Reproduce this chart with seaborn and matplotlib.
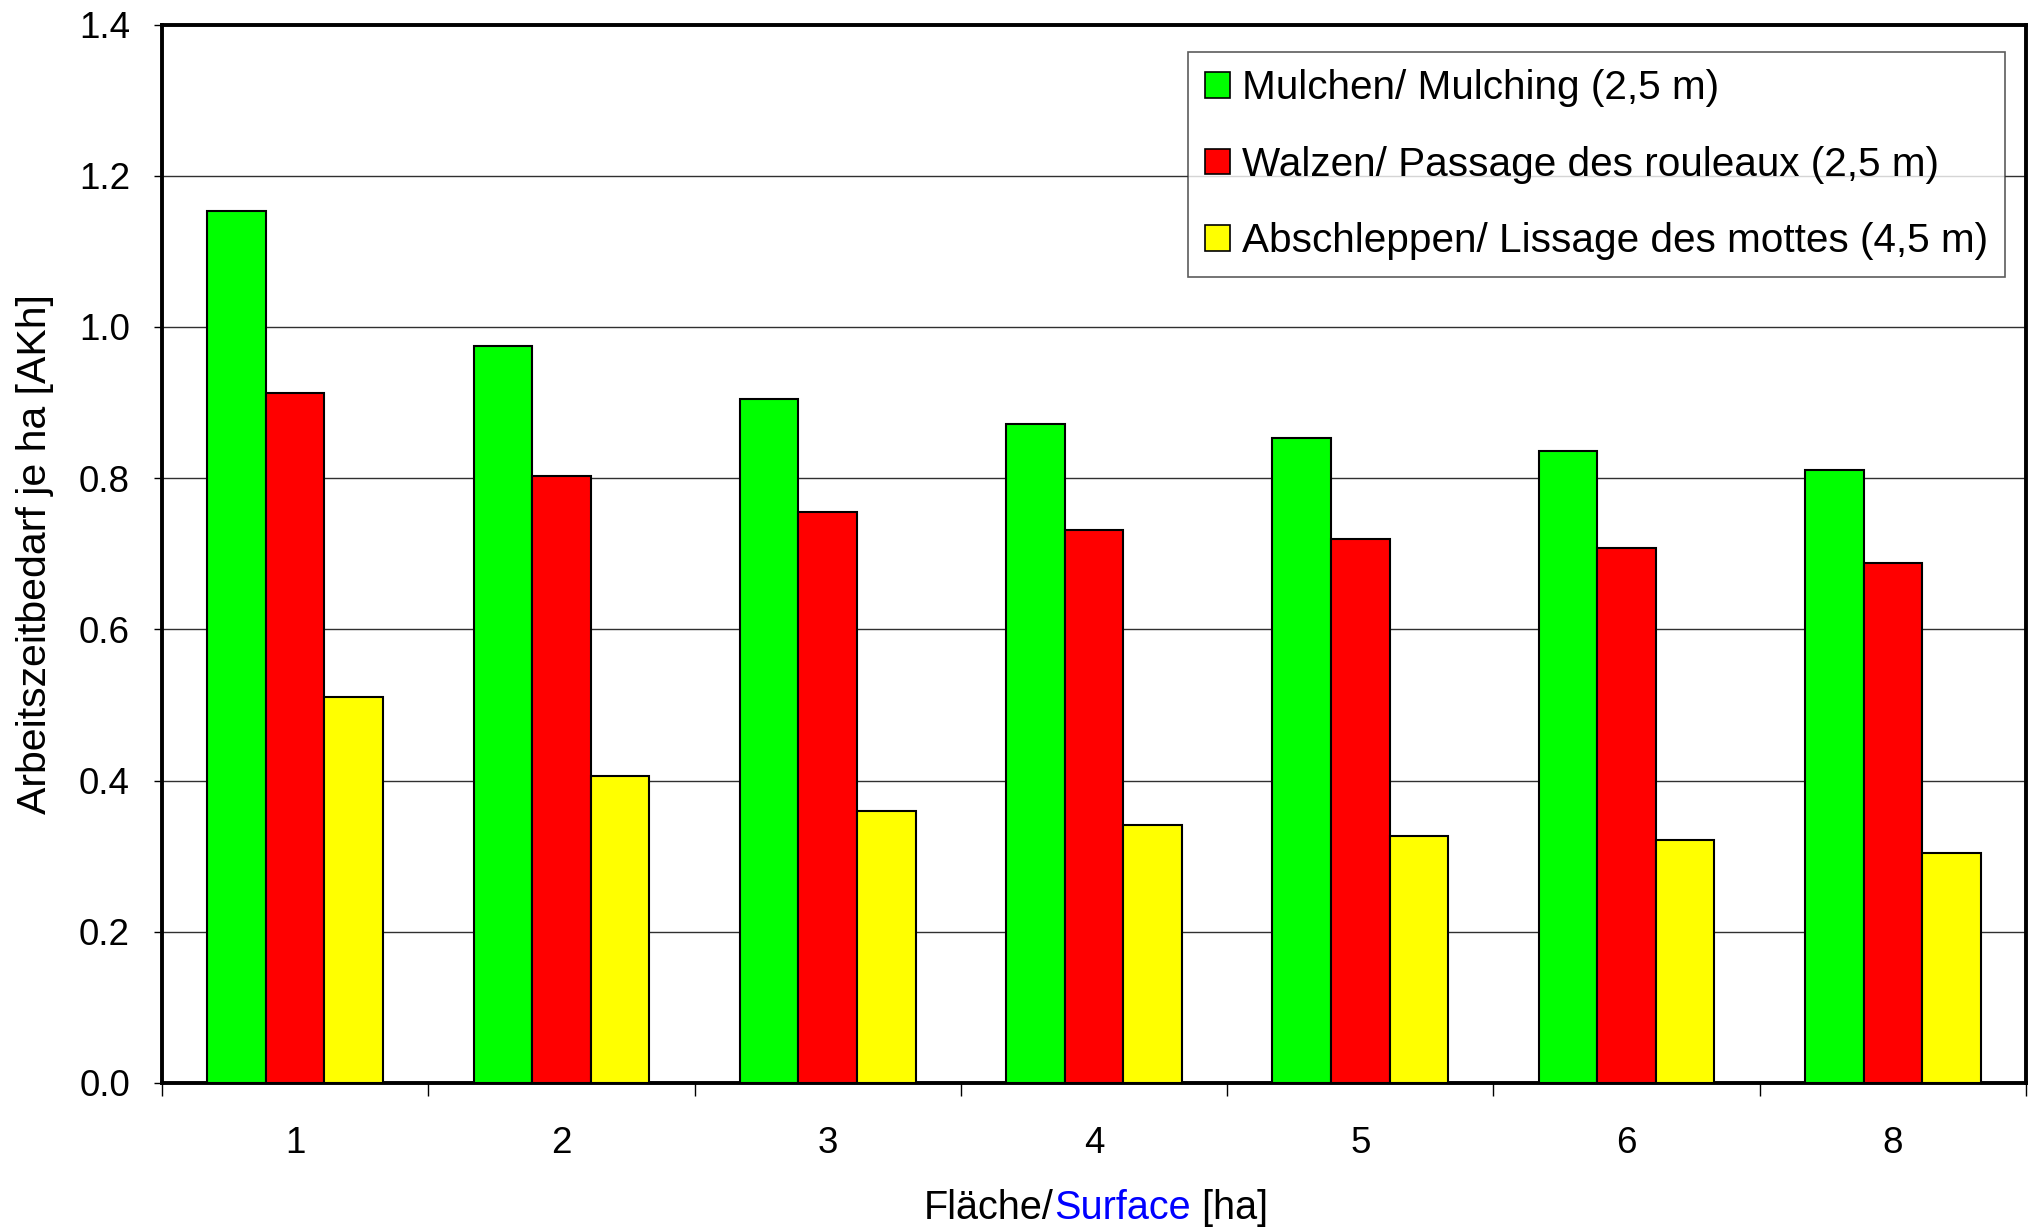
import numpy as np
import pandas as pd
import matplotlib
matplotlib.use("Agg")
import matplotlib.pyplot as plt
from matplotlib.patches import Patch
from matplotlib.ticker import FixedLocator, FormatStrFormatter
import seaborn as sns

# Field size categories [ha]
flaeche = ["1", "2", "3", "4", "5", "6", "8"]

# Working time requirement per ha [AKh]
mulchen = [1.154, 0.975, 0.905, 0.872, 0.853, 0.836, 0.811]
walzen = [0.913, 0.803, 0.755, 0.732, 0.719, 0.708, 0.688]
abschleppen = [0.511, 0.406, 0.360, 0.341, 0.327, 0.321, 0.304]

verfahren = [
    "Mulchen/ Mulching (2,5 m)",
    "Walzen/ Passage des rouleaux (2,5 m)",
    "Abschleppen/ Lissage des mottes (4,5 m)",
]
farben = ["#00FF00", "#FF0000", "#FFFF00"]
y_ticks = [0.0, 0.2, 0.4, 0.6, 0.8, 1.0, 1.2, 1.4]

df = pd.DataFrame({
    "Fläche": flaeche * 3,
    "Wert": mulchen + walzen + abschleppen,
    "Verfahren": np.repeat(verfahren, len(flaeche)),
})

sns.set_style("white")
plt.rcParams["font.family"] = ["Liberation Sans", "DejaVu Sans"]
for key in ("text.color", "axes.labelcolor", "xtick.color", "ytick.color"):
    plt.rcParams[key] = "black"

W, H = 2033, 1228
fig = plt.figure(figsize=(W / 100, H / 100), dpi=100)
left, right, top, bottom = 162 / W, 2026 / W, 1 - 24.6 / H, 1 - 1083 / H
ax = fig.add_axes([left, bottom, right - left, top - bottom])

sns.barplot(
    data=df, x="Fläche", y="Wert", hue="Verfahren",
    order=flaeche, hue_order=verfahren, palette=farben,
    width=0.66, gap=0, saturation=1, errorbar=None,
    edgecolor="black", linewidth=1.5, ax=ax, zorder=3,
)

ax.set_xlim(-0.5, len(flaeche) - 0.5)
ax.set_ylim(0, 1.4)

# Y axis
ax.yaxis.set_major_locator(FixedLocator(y_ticks))
ax.yaxis.set_major_formatter(FormatStrFormatter("%.1f"))
ax.tick_params(axis="y", which="major", direction="out", length=6, width=1,
               color="black", labelsize=26.5, pad=17, left=True)
ax.yaxis.grid(True, color="#303030", linewidth=1)
ax.xaxis.grid(False)
ax.set_axisbelow(True)

# X axis: labels centered on groups, tick marks on group boundaries
ax.xaxis.set_minor_locator(FixedLocator(np.arange(-0.5, len(flaeche), 1.0)))
ax.tick_params(axis="x", which="major", length=0, labelsize=26.5, pad=31)
ax.tick_params(axis="x", which="minor", direction="out", length=9.5, width=1,
               color="black", bottom=True)

for sp in ax.spines.values():
    sp.set_visible(True)
    sp.set_color("black")
    sp.set_linewidth(2.8)

ax.set_ylabel("Arbeitszeitbedarf je ha [AKh]", fontsize=29.5, va="center")
ax.yaxis.set_label_coords(-0.068, 0.5)
ax.set_xlabel("")

# Legend
handles = [Patch(facecolor=c, edgecolor="black", linewidth=1.2) for c in farben]
leg = ax.legend(
    handles, verfahren, loc="upper right", bbox_to_anchor=(0.9887, 0.974),
    borderaxespad=0, fontsize=29.2, frameon=True, fancybox=False,
    handlelength=0.6, handleheight=0.6, handletextpad=0.3,
    labelspacing=0.95, borderpad=0.42,
)
leg.get_frame().set_edgecolor("#333333")
leg.get_frame().set_linewidth(1.2)

# X axis title with a coloured middle part
fig.canvas.draw()
renderer = fig.canvas.get_renderer()
teile = [("Fläche/", "black"), ("Surface", "#0000FF"), (" [ha]", "black")]
widths = []
for txt, col in teile:
    t = fig.text(0, 0, txt, fontsize=28.5)
    widths.append(t.get_window_extent(renderer).width)
    t.remove()
x0 = 1096 - sum(widths) / 2
y_base = 1 - 1219 / H
for (txt, col), w in zip(teile, widths):
    fig.text(x0 / W, y_base, txt, fontsize=28.5, color=col, ha="left", va="baseline")
    x0 += w

fig.savefig("out.png", dpi=100)
